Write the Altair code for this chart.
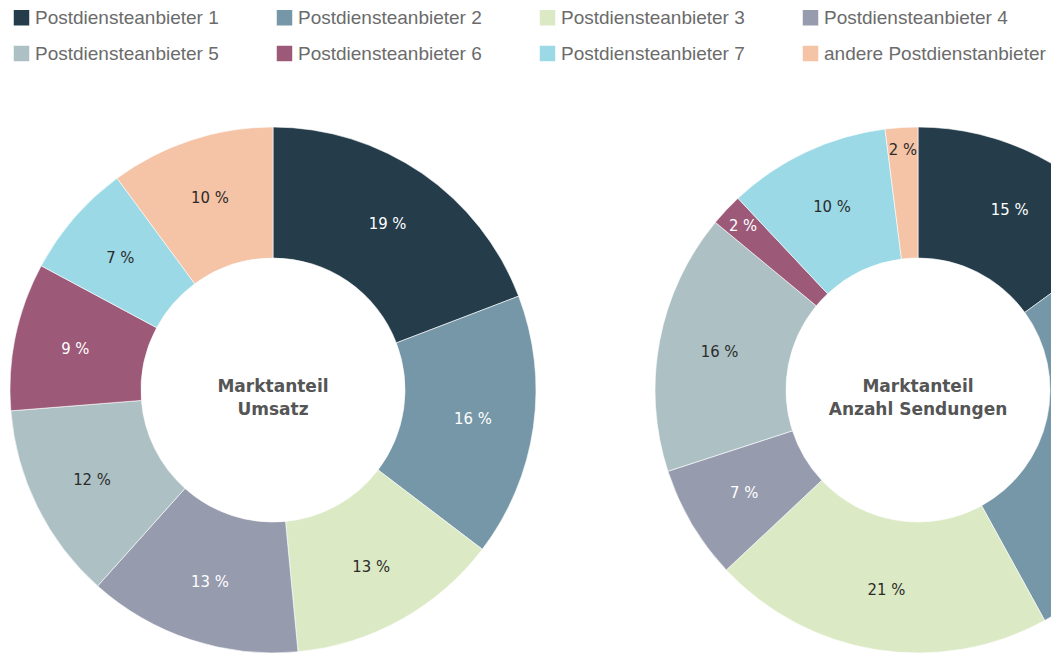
import altair as alt
import pandas as pd

categories = [
    "Postdiensteanbieter 1", "Postdiensteanbieter 2", "Postdiensteanbieter 3",
    "Postdiensteanbieter 4", "Postdiensteanbieter 5", "Postdiensteanbieter 6",
    "Postdiensteanbieter 7", "andere Postdienstanbieter",
]
umsatz = [19, 16, 13, 13, 12, 9, 7, 10]
sendungen = [15, 27, 21, 7, 16, 2, 10, 2]
colors = ["#253d4b", "#7597a7", "#dbe9c4", "#979bae", "#adc1c4", "#9c5a78", "#9bd9e7", "#f5c3a5"]
light_label = [True, True, False, True, False, True, False, False]
titles = [["Marktanteil", "Umsatz"], ["Marktanteil", "Anzahl Sendungen"]]
chart_keys = ["umsatz", "sendungen"]

rows = []
for key, vals in zip(chart_keys, [umsatz, sendungen]):
    for i, (c, v) in enumerate(zip(categories, vals)):
        rows.append({"chart": key, "idx": i, "cat": c, "value": v,
                     "label": f"{v} %", "light": 1 if light_label[i] else 0})
df = pd.DataFrame(rows)
tdf = pd.DataFrame({"chart": chart_keys, "title": titles})

CX = [265, 910]
CY = 382
R_OUT, R_IN = 263, 132
NUM_FONT = "Liberation Sans Narrow, DejaVu Sans Condensed, sans-serif"

color_scale = alt.Scale(domain=categories, range=colors)
legend = alt.Legend(
    orient="none", legendX=4, legendY=0, columns=4, direction="horizontal",
    gridAlign="all", symbolType="square", symbolSize=240, symbolStrokeWidth=0,
    labelFont="Liberation Sans", labelFontSize=19, labelColor="#6b6b6b",
    labelLimit=400, columnPadding=18, rowPadding=16, labelOffset=4,
    title=None, padding=0,
)

layers = []
for k, key in enumerate(chart_keys):
    base = alt.Chart(df).transform_filter(alt.datum.chart == key)
    arc = base.mark_arc(radius=R_OUT, radius2=R_IN, stroke="#ffffff",
                        strokeWidth=0.6, clip=True).encode(
        x=alt.value(CX[k]), y=alt.value(CY),
        theta=alt.Theta("value:Q", stack="normalize"),
        order=alt.Order("idx:Q"),
        color=alt.Color("cat:N", scale=color_scale, sort=categories,
                        legend=legend if k == 0 else None),
    )
    txt = base.transform_joinaggregate(
        total="sum(value)"
    ).transform_window(
        cum="sum(value)", sort=[alt.SortField("idx")], frame=[None, 0]
    ).transform_calculate(
        ang="2 * PI * (datum.cum - datum.value / 2) / datum.total",
        lr="datum.value < 5 ? 240 : 202",
    ).transform_calculate(
        px=f"{CX[k]} + datum.lr * sin(datum.ang)",
        py=f"{CY} - datum.lr * cos(datum.ang)",
    ).mark_text(font=NUM_FONT, fontSize=16.5, clip=True).encode(
        x=alt.X("px:Q", scale=None, axis=None),
        y=alt.Y("py:Q", scale=None, axis=None),
        text="label:N",
        color=alt.condition(alt.datum.light == 1, alt.value("#ffffff"), alt.value("#2b2b2b")),
    )
    center = alt.Chart(tdf).transform_filter(alt.datum.chart == key).mark_text(
        font="DejaVu Sans", fontWeight="bold", fontSize=17, color="#555555",
        lineHeight=23, align="center", baseline="middle",
    ).encode(x=alt.value(CX[k]), y=alt.value(CY - 3), text="title")
    layers += [arc, txt, center]

chart = alt.layer(*layers).properties(
    width=1043, height=646,
    autosize=alt.AutoSizeParams(type="none"), padding=0,
).configure_view(stroke=None)

chart.save("out.html", embed_options={"renderer": "svg", "actions": False})
